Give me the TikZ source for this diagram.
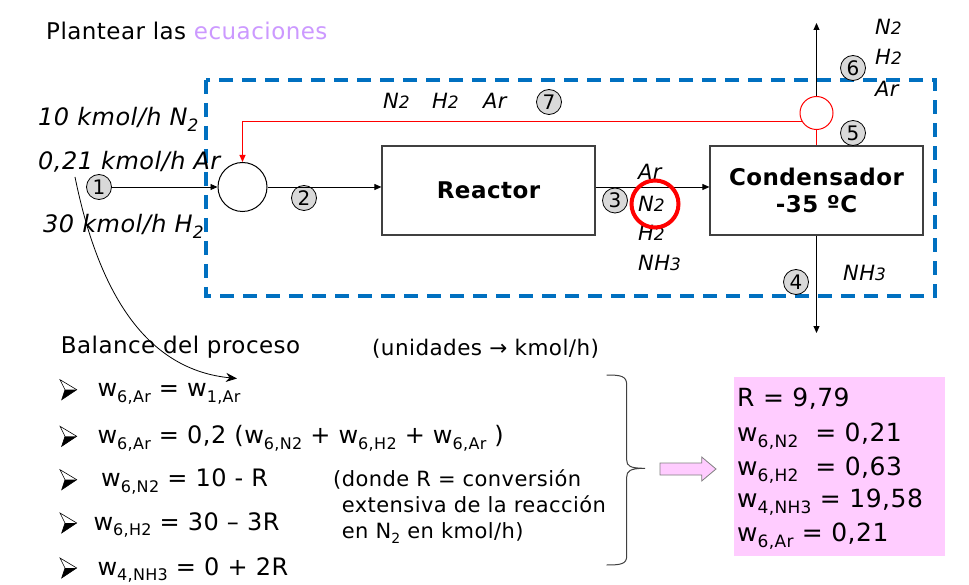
\documentclass[tikz,border=0pt]{standalone}
\usepackage{fontspec}
\setmainfont{DejaVu Sans}[LetterSpace=2]
\usetikzlibrary{arrows.meta}
\definecolor{blueb}{RGB}{0,112,192}
\definecolor{lilac}{RGB}{204,153,255}
\definecolor{pinkf}{RGB}{255,204,255}
\definecolor{numgray}{RGB}{217,217,217}
\definecolor{boxgray}{RGB}{64,64,64}
\newcommand{\fs}[1]{\fontsize{#1}{#1}\selectfont}
\newcommand{\sbs}[1]{\raisebox{-0.45ex}{\fs{16}#1}}
\newcommand{\sbsm}[1]{\raisebox{-0.45ex}{\fs{14}#1}}
\newcommand{\sbsl}[1]{\raisebox{-0.45ex}{\fs{17}#1}}
\newcommand{\dg}[1]{{\fs{17}#1}}
\begin{document}
\begin{tikzpicture}[x=1pt,y=-1pt,
  numc/.style={circle,draw=black,fill=numgray,line width=0.8pt,inner sep=0pt,minimum size=25pt,font=\fs{20}},
  unitbox/.style={draw=boxgray,line width=1.2pt,minimum width=213pt,minimum height=89pt,inner sep=0pt,font=\fontsize{23}{27}\selectfont\bfseries,align=center},
  lab/.style={anchor=base west,inner sep=0pt,font=\fs{21}\itshape},
  txt/.style={anchor=base west,inner sep=0pt},
  conn/.style={line width=0.9pt,-{Triangle[length=7pt,width=6pt]}},
  bul/.pic={\draw[line width=0.6pt,line join=miter] (-8,-10) -- (8.7,0) -- (-6.3,10) -- (-3,0) -- cycle;
            \fill (-3,0) -- (8.7,0) -- (-6.3,10) -- cycle;}]
\useasboundingbox (0,0) rectangle (969,585);
\fill[white] (0,0) rectangle (969,585);

% title
\node[txt,font=\fs{23}] (title) at (46,39.5) {Plantear las \textcolor{lilac}{ecuaciones}};

% control volume
\draw[blueb,line width=4pt,dash pattern=on 14pt off 9pt] (206,80) rectangle (935,296);

% units
\node[circle,draw=black,line width=1pt,minimum size=49pt,inner sep=0pt] (mix) at (242.5,187) {};
\node[unitbox] (reac) at (488.5,190.5) {Reactor};
\node[unitbox] (cond) at (816.5,190.5) {Condensador\\-35 ºC};
\node[circle,draw=red,line width=1pt,minimum size=33pt,inner sep=0pt] (split) at (816.5,113) {};
\coordinate (out6) at (816.5,23);
\coordinate (out4) at (816.5,333);

% stream numbers
\node[numc] (n1) at (99,187) {1};
\node[numc] (n2) at (304,198) {2};
\node[numc] (n3) at (615,200.5) {3};
\node[numc] (n4) at (796,282) {4};
\node[numc] (n5) at (853,133) {5};
\node[numc] (n6) at (853,68) {6};
\node[numc] (n7) at (549,102) {7};

% connectors
\draw[conn] (n1.east) -- (mix.west);
\draw[conn] (mix.east) -- (mix.east -| reac.west);
\draw[conn] (reac.east |- mix.east) -- (cond.west |- mix.east);
\draw[red,line width=0.9pt] (split.south) -- (split.south |- cond.north);
\draw[conn] (split.north) -- (out6);
\draw[conn] (cond.south) -- (out4);
\draw[red,line width=0.9pt,-{Triangle[length=7pt,width=6pt]}] (split.209) -| (mix.north);

% feed labels
\node[txt,font=\fs{24}\itshape] (f1) at (38,125.7) {10 kmol/h N\sbsl{2}};
\node[txt,font=\fs{24}\itshape] (f2) at (38,169.3) {0,21 kmol/h Ar};
\node[txt,font=\fs{24}\itshape] (f3) at (43,232.3) {30 kmol/h H\sbsl{2}};

% stream labels
\node[lab] (s7a) at (383,109) {N\dg{2}};
\node[lab] (s7b) at (432,109) {H\dg{2}};
\node[lab] (s7c) at (483,109) {Ar};
\node[lab] (s3a) at (638,180) {Ar};
\node[lab] (s3b) at (638,211.7) {N\dg{2}};
\node[lab] (s3c) at (638,240.7) {H\dg{2}};
\node[lab] (s3d) at (638,270.7) {NH\dg{3}};
\node[lab] (s4a) at (843,280.7) {NH\dg{3}};
\node[lab] (s6a) at (875,35) {N\dg{2}};
\node[lab] (s6b) at (875,65) {H\dg{2}};
\node[lab] (s6c) at (875,96.7) {Ar};
\node[circle,draw=red,line width=4pt,minimum size=47pt,inner sep=0pt] (hl) at (655,204) {};

% curved pointer
\coordinate (cs) at (75,177);
\coordinate (ce) at (237,378.5);
\draw[line width=0.8pt,-{Stealth[length=11pt,width=9pt]}] (cs) .. controls (100,300) and (150,370) .. (ce);

% balance
\node[txt,font=\fs{23}] (bal) at (60.7,353.3) {Balance del proceso};
\node[txt,font=\fs{21.5}] (uni) at (372,355) {(unidades → kmol/h)};

\pic at (68,389.7) {bul};
\pic at (68,436.3) {bul};
\pic at (68,479.7) {bul};
\pic at (68,523) {bul};
\pic at (68,568) {bul};
\node[txt,font=\fs{24}] (e1) at (97.3,396.7) {w\sbs{6,Ar} = w\sbs{1,Ar}};
\node[txt,font=\fs{24}] (e2) at (97.3,443.3) {w\sbs{6,Ar} = 0,2 (w\sbs{6,N2} + w\sbs{6,H2} + w\sbs{6,Ar} )};
\node[txt,font=\fs{24}] (e3) at (101,486.7) {w\sbs{6,N2} = 10 - R};
\node[txt,font=\fs{24}] (e4) at (93.3,530) {w\sbs{6,H2} = 30 – 3R};
\node[txt,font=\fs{24}] (e5) at (97.3,575) {w\sbs{4,NH3} = 0 + 2R};

\node[txt,font=\fs{21}] (d1) at (333,486.7) {(donde R = conversión};
\node[txt,font=\fs{21}] (d2) at (341.7,512.5) {extensiva de la reacción};
\node[txt,font=\fs{21}] (d3) at (341.7,538.5) {en N\sbsm{2} en kmol/h)};

% brace
\draw[boxgray,line width=1pt] (606.7,375) .. controls (621,375) and (626.7,376) .. (626.7,385)
  -- (626.7,460) .. controls (626.7,466) and (630,468.3) .. (645,468.3)
  .. controls (630,468.3) and (626.7,471) .. (626.7,477)
  -- (626.7,556) .. controls (626.7,564) and (621,565) .. (606.7,565);

% block arrow
\draw[fill=pinkf,draw=gray,line width=0.8pt,line join=miter] (660,463) -- (701.7,463) -- (701.7,457) -- (716,469)
  -- (701.7,481) -- (701.7,475) -- (660,475) -- cycle;

% results
\node[fill=pinkf,minimum width=211pt,minimum height=179pt,inner sep=0pt] (res) at (839.5,466.5) {};
\node[txt,font=\fs{25}] (r1) at (737,406.7) {R\ = 9,79};
\node[txt,font=\fs{25}] (r2) at (737,441.7) {w\sbsl{6,N2}\ \ = 0,21};
\node[txt,font=\fs{25}] (r3) at (737,475) {w\sbsl{6,H2}\ \ = 0,63};
\node[txt,font=\fs{25}] (r4) at (737,507.7) {w\sbsl{4,NH3} = 19,58};
\node[txt,font=\fs{25}] (r5) at (737,541) {w\sbsl{6,Ar} = 0,21};
\end{tikzpicture}
\end{document}
